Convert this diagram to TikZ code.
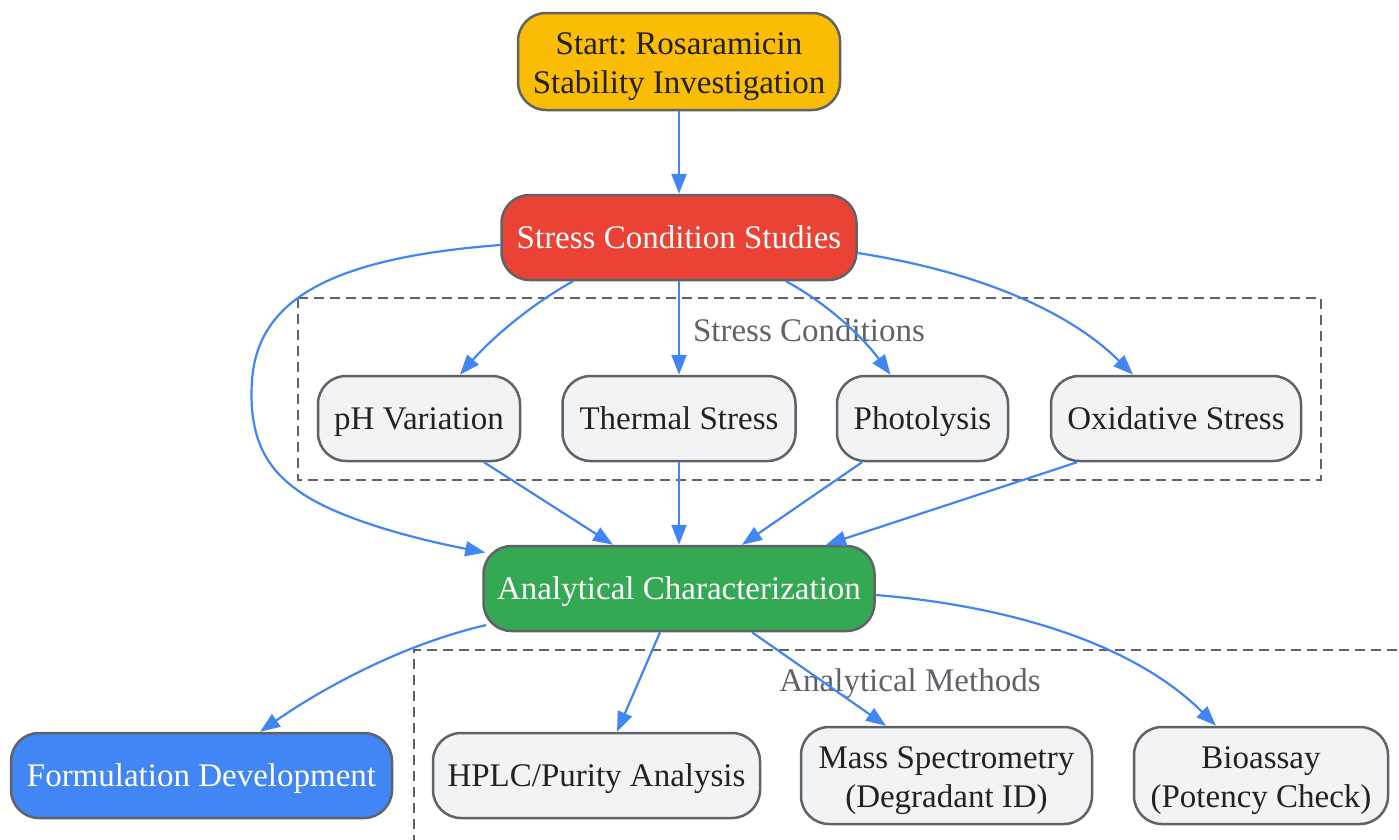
\documentclass[tikz,border=0pt]{standalone}
\usepackage{fontspec}
\setmainfont{Liberation Serif}
\frenchspacing
\usetikzlibrary{arrows.meta}
\definecolor{gblue}{HTML}{4285F4}
\definecolor{gred}{HTML}{EA4335}
\definecolor{ggreen}{HTML}{34A853}
\definecolor{gyellow}{HTML}{FBBC04}
\definecolor{gborder}{HTML}{5F6368}
\definecolor{glight}{HTML}{F1F3F4}
\definecolor{gtext}{HTML}{222222}
\tikzset{
  box/.style={draw=gborder, line width=2.5pt, rounded corners=28pt, inner sep=0pt,
    align=center, font=\fontsize{33}{39}\selectfont, text=gtext, fill=glight,
    text height=22pt, text depth=0pt},
  twoline/.style={text height=63pt, text depth=0pt},
  startbox/.style={box, fill=gyellow},
  redbox/.style={box, fill=gred, text=white},
  greenbox/.style={box, fill=ggreen, text=white},
  bluebox/.style={box, fill=gblue, text=white},
  conn/.style={draw=gblue, line width=2.2pt, -{Triangle[length=20pt,width=15pt]}},
  cluster/.style={draw=gborder, line width=2pt, dash pattern=on 10pt off 6pt},
  clusterlabel/.style={text=gborder, font=\fontsize{33}{39}\selectfont, inner sep=0pt,
    text height=22pt, text depth=0pt}
}
\begin{document}
\begin{tikzpicture}[x=1pt,y=-1pt]
\useasboundingbox (0,0) rectangle (1399,839);
% clusters
\draw[cluster] (298,298) rectangle (1321,480);
\node[clusterlabel] (lblstress) at (809,330) {Stress Conditions};
\draw[cluster] (414,845) -- (414,650) -- (1405,650);
\node[clusterlabel] (lblanal) at (910,680) {Analytical Methods};
% nodes
\node[startbox, twoline, minimum width=322pt, minimum height=97pt] (start) at (679,61.5) {Start: Rosaramicin\\Stability Investigation};
\node[redbox, minimum width=355pt, minimum height=85pt] (stress) at (679,237.5) {Stress Condition Studies};
\node[box, minimum width=202pt, minimum height=85pt] (ph) at (419,418.5) {pH Variation};
\node[box, minimum width=233pt, minimum height=85pt] (thermal) at (679,418.5) {Thermal Stress};
\node[box, minimum width=171pt, minimum height=85pt] (photo) at (922.5,418.5) {Photolysis};
\node[box, minimum width=250pt, minimum height=85pt] (ox) at (1176,418.5) {Oxidative Stress};
\node[greenbox, minimum width=391pt, minimum height=85pt] (anal) at (679,588.5) {Analytical Characterization};
\node[bluebox, minimum width=381pt, minimum height=85pt] (form) at (201.5,775.5) {Formulation Development};
\node[box, minimum width=327pt, minimum height=85pt] (hplc) at (596.5,775.5) {HPLC/Purity Analysis};
\node[box, twoline, minimum width=291pt, minimum height=97pt] (mass) at (946.5,775.5) {Mass Spectrometry\\(Degradant ID)};
\node[box, twoline, minimum width=254pt, minimum height=97pt] (bio) at (1261,775.5) {Bioassay\\(Potency Check)};
% connectors
\draw[conn] (start.south) -- (stress.north);
\draw[conn] ([xshift=-106pt]stress.south) .. controls (530,305) and (490,340) .. ([xshift=41pt]ph.north);
\draw[conn] (stress.south) -- (thermal.north);
\draw[conn] ([xshift=107pt]stress.south) .. controls (830,305) and (865,340) .. ([xshift=-32pt]photo.north);
\draw[conn] ([yshift=-15.5pt]stress.east) .. controls (980,272) and (1070,312) .. ([xshift=-43pt]ox.north);
\draw[conn] ([yshift=-7.5pt]stress.west) .. controls (330,258) and (258,300) .. (252,380)
  .. controls (248,440) and (268,470) .. (300,492)
  .. controls (340,520) and (420,540) .. ([xshift=3pt,yshift=36pt]anal.west);
\draw[conn] ([xshift=65pt]ph.south) -- ([xshift=-66pt]anal.north);
\draw[conn] (thermal.south) -- (anal.north);
\draw[conn] ([xshift=-60.5pt]photo.south) -- ([xshift=63pt]anal.north);
\draw[conn] ([xshift=-99pt]ox.south) -- ([xshift=147pt]anal.north);
\draw[conn] ([xshift=4pt,yshift=-36.5pt]anal.west) .. controls (400,645) and (320,690) .. ([xshift=58.5pt]form.north);
\draw[conn] ([xshift=-19pt]anal.south) -- ([xshift=20.5pt]hplc.north);
\draw[conn] ([xshift=73pt]anal.south) -- ([xshift=-60.5pt]mass.north);
\draw[conn] ([yshift=-6.5pt]anal.east) .. controls (1000,605) and (1130,640) .. ([xshift=-45pt]bio.north);
\end{tikzpicture}
\end{document}
